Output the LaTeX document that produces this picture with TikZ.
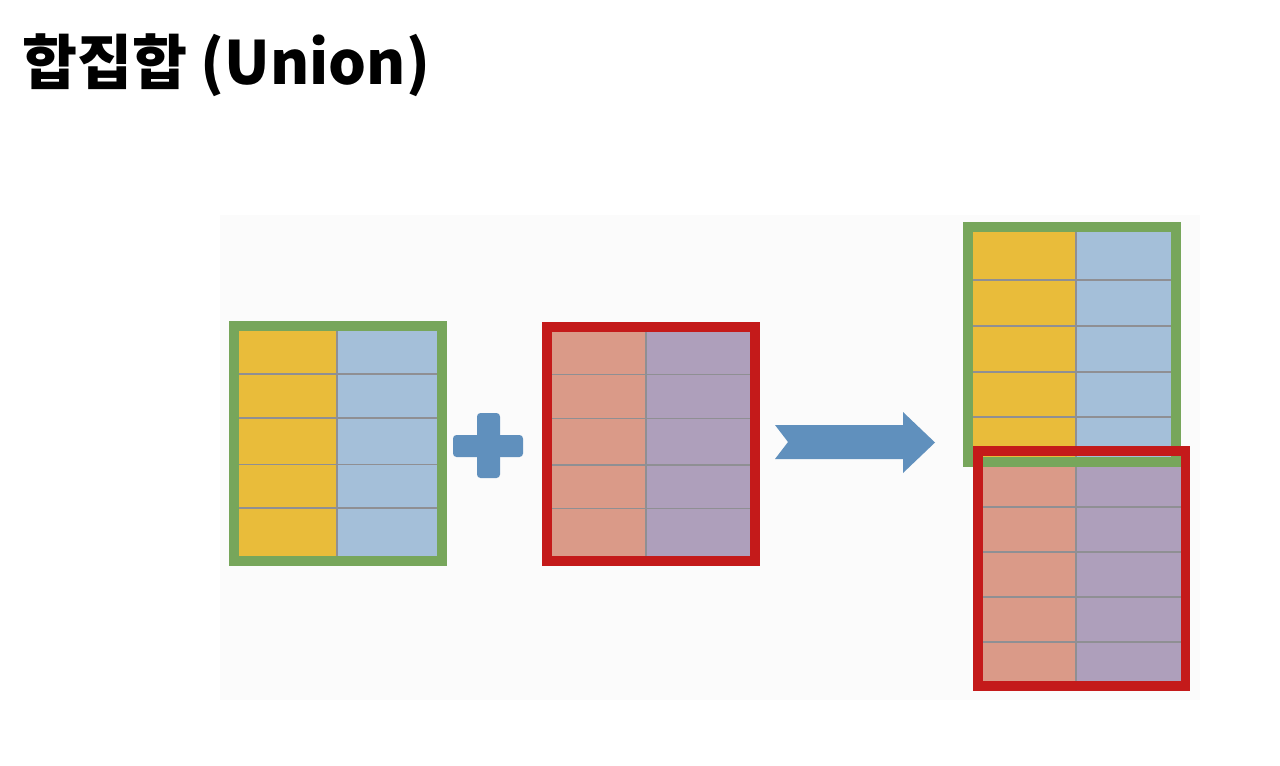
\documentclass[tikz,border=0pt]{standalone}
\usepackage{fontspec}
\usepackage{tikz}
\newfontfamily\kofont{Noto Sans CJK KR}

\definecolor{tgreen}{HTML}{77A65B}
\definecolor{tred}{HTML}{C41A1A}
\definecolor{cyellow}{HTML}{E9BC3A}
\definecolor{cblue}{HTML}{A4BFD9}
\definecolor{csalmon}{HTML}{DA9A88}
\definecolor{cpurple}{HTML}{AE9FBB}
\definecolor{accent}{HTML}{6090BD}
\definecolor{rowgray}{HTML}{8F8F93}

\tikzset{
    frame/.style={draw=#1, line width=0.2cm, minimum width=4.16cm, minimum height=4.7cm, inner sep=0pt},
    rowline/.style={draw=rowgray, line width=0.9pt}
}

% cells of one table, centred at (#1,#2), column at #5, row lines at #6
\newcommand{\tcells}[6]{
    \begin{scope}[shift={(#1,#2)}]
        \fill[#3] (-104,-117.5) rectangle (#5,117.5);
        \fill[#4] (#5,-117.5) rectangle (104,117.5);
        \foreach \r in {#6}
            \draw[rowline] (-104,\r) -- (104,\r);
        \draw[rowline] (#5,-117.5) -- (#5,117.5);
    \end{scope}
}

\begin{document}
\begin{tikzpicture}[x=0.02cm, y=-0.02cm]
    \useasboundingbox (0,0) rectangle (1280,765);
    \fill[black!1.5] (220,215) rectangle (1200,700);

    \node[anchor=west, font=\kofont\bfseries\fontsize{34}{40}\selectfont] (title) at (16,65) {합집합 (Union)};

    % left side
    \tcells{338}{443.5}{cyellow}{cblue}{-1}{-69.5,-25.5,21,64.5}
    \node[frame=tgreen] (ta) at (338,443.5) {};
    \tcells{651}{444}{csalmon}{cpurple}{-5}{-69.5,-25.5,21,64.5}
    \node[frame=tred] (tb) at (651,444) {};

    \fill[accent, rounded corners=2pt] (453,435) rectangle (523,457);
    \fill[accent, rounded corners=2pt] (477,413) rectangle (500,478);

    \fill[accent] (775,425) -- (903,425) -- (903,412) -- (935,442.5) -- (903,473)
        -- (903,459) -- (775,459) -- (788,442) -- cycle;

    % result
    \tcells{1081.5}{568.5}{csalmon}{cpurple}{-5.5}{-61.5,-16.5,28.5,73.5}
    \tcells{1072}{344.5}{cyellow}{cblue}{4}{-64.5,-18.5,27.5,72.5}
    \node[frame=tgreen] (ra) at (1072,344.5) {};
    \node[frame=tred] (rb) at (1081.5,568.5) {};
\end{tikzpicture}
\end{document}
